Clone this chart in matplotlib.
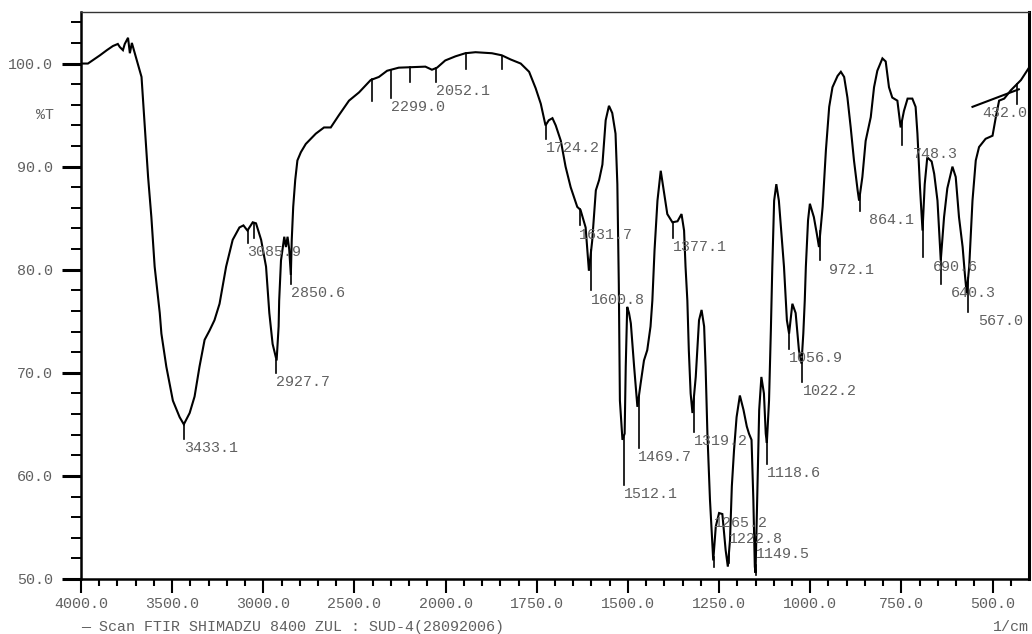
import numpy as np
import matplotlib
matplotlib.use('Agg')
import matplotlib.pyplot as plt
from matplotlib.ticker import FixedLocator, FormatStrFormatter

# FTIR spectrum (wavenumber in 1/cm, transmittance in %T)
wavenumber = [
    4000, 3962, 3896, 3858, 3825, 3798, 3787, 3770, 3760, 3742, 3732, 3721, 3694, 3668,
    3650, 3632, 3614, 3596, 3568, 3559, 3532, 3496, 3459, 3436, 3404, 3377, 3350, 3322,
    3295, 3268, 3240, 3204, 3168, 3131, 3109, 3087, 3058, 3040, 3012, 2985, 2967, 2949,
    2927, 2916, 2913, 2903, 2885, 2876, 2867, 2858, 2849, 2844, 2836, 2825, 2813, 2794,
    2767, 2712, 2667, 2630, 2585, 2530, 2475, 2411, 2366, 2321, 2257, 2111, 2075, 2047,
    2002, 1973, 1946, 1918, 1873, 1846, 1822, 1794, 1771, 1753, 1739, 1726, 1717, 1707,
    1698, 1684, 1671, 1657, 1639, 1630, 1616, 1607, 1598, 1588, 1579, 1570, 1561, 1552,
    1543, 1534, 1529, 1525, 1522, 1515, 1509, 1506, 1502, 1497, 1492, 1483, 1474, 1465,
    1456, 1447, 1438, 1433, 1427, 1419, 1410, 1401, 1392, 1378, 1364, 1353, 1346, 1342,
    1337, 1333, 1328, 1323, 1314, 1305, 1298, 1291, 1287, 1282, 1275, 1270, 1266, 1259,
    1250, 1241, 1232, 1226, 1220, 1215, 1209, 1202, 1193, 1183, 1174, 1168, 1161, 1156,
    1152, 1150, 1145, 1140, 1134, 1127, 1122, 1119, 1113, 1108, 1104, 1099, 1093, 1086,
    1079, 1072, 1067, 1064, 1058, 1049, 1040, 1031, 1024, 1019, 1015, 1012, 1006, 1001,
    990, 982, 976, 966, 957, 948, 939, 925, 916, 907, 898, 889, 880, 870, 866, 857, 848,
    834, 825, 816, 802, 793, 784, 775, 761, 752, 743, 733, 720, 711, 706, 699, 692, 686,
    679, 667, 660, 651, 642, 633, 624, 610, 601, 592, 582, 576, 571, 564, 555, 546, 537,
    519, 500, 491, 482, 468, 450, 422, 400,
]
transmittance = [
    100.0, 100.0, 100.8, 101.3, 101.7, 101.9, 101.6, 101.3, 101.9, 102.5, 101.0, 102.0, 100.3, 98.7,
    93.8, 89.0, 85.1, 80.3, 75.8, 73.8, 70.6, 67.3, 65.7, 65.0, 66.1, 67.7, 70.6, 73.2,
    74.1, 75.1, 76.7, 80.3, 82.9, 84.1, 84.3, 83.8, 84.6, 84.5, 82.9, 80.3, 75.8, 72.8,
    71.2, 74.5, 77.0, 80.9, 83.2, 82.2, 83.2, 82.0, 79.5, 82.9, 86.1, 88.7, 90.6, 91.4,
    92.2, 93.2, 93.8, 93.8, 95.0, 96.4, 97.2, 98.4, 98.7, 99.3, 99.6, 99.7, 99.4, 99.6,
    100.3, 100.7, 101.0, 101.1, 101.0, 100.8, 100.4, 100.0, 99.2, 97.6, 96.1, 94.0, 94.5, 94.7,
    94.0, 92.5, 90.0, 88.0, 86.1, 85.8, 84.1, 79.9, 82.8, 87.7, 88.7, 90.2, 94.5, 95.9,
    95.2, 93.2, 88.3, 78.6, 67.3, 63.5, 64.1, 70.6, 76.4, 75.8, 74.8, 70.6, 66.7, 69.0,
    71.2, 72.2, 74.5, 77.0, 81.9, 86.7, 89.6, 87.5, 85.4, 84.6, 84.7, 85.4, 83.8, 80.3,
    77.0, 72.2, 68.0, 66.1, 69.6, 75.1, 76.1, 74.5, 70.6, 64.1, 57.7, 54.5, 51.8, 55.1,
    56.4, 56.3, 52.8, 51.2, 53.8, 59.0, 62.5, 65.7, 67.8, 66.4, 64.8, 64.1, 63.5, 57.7,
    51.2, 50.6, 58.3, 66.4, 69.6, 68.0, 64.1, 63.2, 67.3, 74.1, 80.3, 86.7, 88.3, 86.7,
    83.5, 80.3, 77.0, 75.1, 73.8, 76.7, 75.8, 72.2, 70.9, 73.8, 77.0, 80.3, 84.8, 86.4,
    85.1, 83.5, 82.2, 86.1, 91.6, 95.8, 97.7, 98.8, 99.2, 98.7, 96.7, 93.8, 90.6, 87.7, 86.7, 89.0, 92.5,
    94.8, 97.7, 99.3, 100.5, 100.2, 97.7, 96.7, 96.4, 93.8, 95.4, 96.6, 96.6, 95.8, 93.2, 88.0, 83.8, 88.3,
    90.9, 90.5, 89.3, 86.7, 80.9, 85.1, 87.9, 90.0, 89.0, 85.1, 82.2, 79.6, 77.7, 80.3, 86.7, 90.6, 91.9,
    92.7, 93.0, 94.8, 96.4, 96.6, 97.4, 98.4, 99.6,
]

# short straight baseline segment drawn near 432 1/cm
base_wn = [555, 428]
base_t = [95.8, 97.5]

# labelled peaks: value, label left edge (1/cm), label centre (%T)
peak_labels = ['3433.1', '3085.9', '2927.7', '2850.6', '2299.0', '2052.1', '1724.2', '1631.7',
               '1600.8', '1512.1', '1469.7', '1377.1', '1319.2', '1265.2', '1222.8', '1149.5',
               '1118.6', '1056.9', '1022.2', '972.1', '864.1', '748.3', '690.6', '640.3',
               '567.0', '432.0']
label_wn = [3437, 3087, 2929, 2847, 2301, 2055, 1726, 1635,
            1602, 1512, 1473, 1377, 1320, 1265, 1224, 1150,
            1119, 1059, 1021, 949, 840, 719, 664, 615,
            540, 527]
label_t = [62.7, 81.7, 69.1, 77.7, 95.8, 97.3, 91.8, 83.4,
           77.1, 58.2, 61.8, 82.2, 63.4, 55.4, 53.9, 52.4,
           60.3, 71.4, 68.2, 80.0, 84.8, 91.2, 80.3, 77.7,
           75.0, 95.2]
# unlabelled marker ticks
extra_wn = [3049, 2403, 2198, 1944, 1844]
extra_end = [83.1, 96.4, 98.2, 99.5, 99.5]

x_major = [4000, 3500, 3000, 2500, 2000, 1750, 1500, 1250, 1000, 750, 500]


def fwd(w):
    w = np.asarray(w, dtype=float)
    return np.where(w >= 2000, w, 2 * w - 2000)


def inv(u):
    u = np.asarray(u, dtype=float)
    return np.where(u >= 2000, u, (u + 2000) / 2)


grey = '#606060'
mono = 'Liberation Mono'
fs = 10.8

fig = plt.figure(figsize=(10.32, 6.34), dpi=100)
ax = fig.add_axes([81 / 1032, 55 / 634, 948 / 1032, 567 / 634])
ax.set_xscale('function', functions=(fwd, inv))
ax.set_xlim(4000, 400)
ax.set_ylim(50, 105)

ax.plot(wavenumber, transmittance, color='black', lw=1.5, solid_joinstyle='miter')
ax.plot(base_wn, base_t, color='black', lw=1.5)

# peak marker ticks and labels
wn_rev = wavenumber[::-1]
t_rev = transmittance[::-1]
for lab, lw_, lt in zip(peak_labels, label_wn, label_t):
    pw = float(lab)
    ct = np.interp(pw, wn_rev, t_rev)
    end = lt + 0.9 if lt + 0.9 < ct else ct - 1.0
    ax.plot([pw, pw], [ct, end], color='black', lw=1.2)
    ax.text(lw_, lt, lab, ha='left', va='center', fontsize=fs, family=mono,
            color=grey, clip_on=True)
for ew, ee in zip(extra_wn, extra_end):
    ct = np.interp(ew, wn_rev, t_rev)
    ax.plot([ew, ew], [ct, ee], color='black', lw=1.2)

# axes styling
ax.xaxis.set_major_locator(FixedLocator(x_major))
minor = [w for w in list(range(3900, 2000, -100)) + list(range(1950, 400, -50)) if w not in x_major]
ax.xaxis.set_minor_locator(FixedLocator(minor))
ax.xaxis.set_major_formatter(FormatStrFormatter('%.1f'))
ax.yaxis.set_major_locator(FixedLocator(np.arange(50, 101, 10)))
ax.yaxis.set_minor_locator(FixedLocator([v for v in range(52, 105, 2) if v % 10]))
ax.yaxis.set_major_formatter(FormatStrFormatter('%.1f'))

ax.tick_params(axis='x', which='major', direction='out', length=10, width=1.5, pad=3,
               labelsize=fs, labelcolor=grey)
ax.tick_params(axis='x', which='minor', direction='out', length=5, width=1.5)
ax.tick_params(axis='y', which='major', direction='out', length=14, width=2.2, pad=6,
               labelsize=fs, labelcolor=grey)
ax.tick_params(axis='y', which='minor', direction='out', length=7, width=1.4)
for lab in ax.get_xticklabels() + ax.get_yticklabels():
    lab.set_family(mono)

for side in ['left', 'bottom']:
    ax.spines[side].set_linewidth(1.8)
ax.spines['right'].set_linewidth(2.2)
ax.spines['top'].set_linewidth(1.0)
ax.spines['top'].set_color('#333333')

fig.text(45 / 1032, 1 - 115 / 634, '%T', ha='center', va='center', fontsize=fs,
         family=mono, color=grey)
fig.text(81 / 1032, 1 - 627 / 634, '\u2014 Scan FTIR SHIMADZU 8400 ZUL : SUD-4(28092006)',
         ha='left', va='center', fontsize=fs, family=mono, color=grey)
fig.text(1029 / 1032, 1 - 627 / 634, '1/cm', ha='right', va='center', fontsize=fs,
         family=mono, color=grey)

fig.savefig('out.png', dpi=100)
